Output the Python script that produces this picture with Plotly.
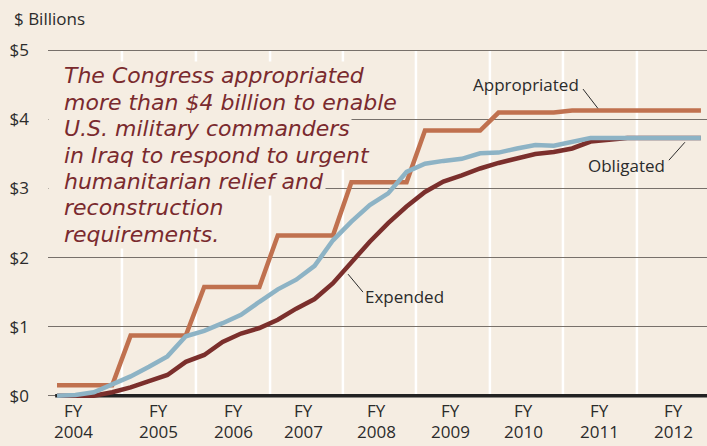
import plotly.graph_objects as go

# Quarterly index (0 = first quarter shown)
quarters = list(range(36))
appropriated = [0.15, 0.15, 0.15, 0.15, 0.87, 0.87, 0.87, 0.87, 1.575, 1.575, 1.575, 1.575,
                2.32, 2.32, 2.32, 2.32, 3.09, 3.09, 3.09, 3.09, 3.84, 3.84, 3.84, 3.84,
                4.10, 4.10, 4.10, 4.10, 4.13, 4.13, 4.13, 4.13, 4.13, 4.13, 4.13, 4.13]
obligated = [0.0, 0.01, 0.05, 0.16, 0.28, 0.42, 0.57, 0.86, 0.94, 1.05, 1.17, 1.36,
             1.54, 1.68, 1.88, 2.25, 2.52, 2.76, 2.93, 3.24, 3.36, 3.40, 3.43, 3.51,
             3.52, 3.58, 3.63, 3.62, 3.67, 3.73, 3.73, 3.73, 3.73, 3.73, 3.73, 3.73]
expended = [0.0, 0.0, 0.0, 0.05, 0.12, 0.21, 0.30, 0.49, 0.59, 0.78, 0.90, 0.98,
            1.10, 1.26, 1.40, 1.63, 1.93, 2.23, 2.50, 2.74, 2.95, 3.10, 3.19, 3.29,
            3.37, 3.44, 3.50, 3.53, 3.58, 3.68, 3.71, 3.73, 3.73, 3.73, 3.73, 3.73]

fy_tick_pos = [0.92, 5.49, 9.59, 13.42, 17.36, 21.41, 25.33, 29.51, 33.53]
fy_years = ["2004", "2005", "2006", "2007", "2008", "2009", "2010", "2011", "2012"]
fy_boundaries = [3.53, 7.55, 11.58, 15.54, 19.51, 23.53, 27.5, 31.52]
y_ticks = [0, 1, 2, 3, 4, 5]
y_labels = ["$0", "$1", "$2", "$3", "$4", "$5"]

note_lines = ["The Congress appropriated", "more than $4 billion to enable",
              "U.S. military commanders", "in Iraq to respond to urgent",
              "humanitarian relief and", "reconstruction", "requirements."]

BG = "#f5ede2"
C_APP = "#c0714f"
C_OBL = "#8db3c5"
C_EXP = "#7b2f2c"
TXT = "#2b2b2b"
FONT = "Open Sans"

fig = go.Figure()
fig.add_trace(go.Scatter(x=quarters, y=appropriated, mode="lines",
                         line=dict(color=C_APP, width=4.5), name="Appropriated"))
fig.add_trace(go.Scatter(x=quarters, y=expended, mode="lines",
                         line=dict(color=C_EXP, width=4.5), name="Expended"))
fig.add_trace(go.Scatter(x=quarters, y=obligated, mode="lines",
                         line=dict(color=C_OBL, width=4.5), name="Obligated"))

shapes = []
for b in fy_boundaries:
    shapes.append(dict(type="line", xref="x", yref="y", x0=b, x1=b, y0=0, y1=5,
                       line=dict(color="white", width=2.5), layer="below"))
shapes.append(dict(type="line", xref="x", yref="y", x0=-0.1, x1=35.33, y0=0, y1=0,
                   line=dict(color="#222222", width=3.5), layer="between"))
# leader lines
shapes += [
    dict(type="line", xref="x", yref="y", x0=28.59, y0=4.44, x1=29.40, y1=4.16,
         line=dict(color=TXT, width=1)),
    dict(type="line", xref="x", yref="y", x0=33.26, y0=3.41, x1=34.13, y1=3.67,
         line=dict(color=TXT, width=1)),
    dict(type="line", xref="x", yref="y", x0=16.63, y0=1.50, x1=15.82, y1=1.76,
         line=dict(color=TXT, width=1)),
]

annotations = [
    dict(text="Appropriated", x=25.49, y=4.51, xref="x", yref="y", showarrow=False,
         font=dict(family=FONT, size=17, color=TXT)),
    dict(text="Obligated", x=30.98, y=3.34, xref="x", yref="y", showarrow=False,
         font=dict(family=FONT, size=17, color=TXT)),
    dict(text="Expended", x=18.91, y=1.43, xref="x", yref="y", showarrow=False,
         font=dict(family=FONT, size=17, color=TXT)),
    dict(text="$ Billions", x=-0.0546, y=1.086, xref="paper", yref="paper",
         xanchor="left", yanchor="middle", showarrow=False,
         font=dict(family=FONT, size=17, color=TXT)),
]
for pos, yr in zip(fy_tick_pos, fy_years):
    annotations.append(dict(text="FY", x=pos, y=-0.0188, xref="x", yref="paper",
                            yanchor="middle", showarrow=False,
                            font=dict(family=FONT, size=17, color=TXT)))
    annotations.append(dict(text=yr, x=pos, y=-0.0779, xref="x", yref="paper",
                            yanchor="middle", showarrow=False,
                            font=dict(family=FONT, size=17, color=TXT)))

note_y = [4.64, 4.25, 3.87, 3.48, 3.10, 2.72, 2.33]
for line, yy in zip(note_lines, note_y):
    annotations.append(dict(text="<i>&nbsp;&nbsp;" + line + "</i>", x=-0.49, y=yy,
                            xref="x", yref="y",
                            xanchor="left", yanchor="middle", showarrow=False,
                            bgcolor=BG, borderpad=1,
                            font=dict(family="DejaVu Sans", size=22, color="#7a2a2e")))

fig.update_layout(
    width=707, height=446,
    margin=dict(l=48, r=0, t=48.6, b=41.7),
    paper_bgcolor=BG, plot_bgcolor=BG,
    showlegend=False,
    shapes=shapes, annotations=annotations,
    xaxis=dict(range=[-0.49, 35.33], showgrid=False, zeroline=False,
               showticklabels=False, ticks="", automargin=False),
    yaxis=dict(range=[-0.12, 5.02], showgrid=True, gridcolor="#77706a", gridwidth=1.3,
               zeroline=False, tickvals=y_ticks, ticktext=y_labels, ticks="",
               ticklabelstandoff=18, automargin=False,
               tickfont=dict(family=FONT, size=17, color=TXT)),
)

fig.write_html("out.html",
               config={"displayModeBar": False},
               post_script="document.body.style.margin='0px';"
                           "document.body.style.background='" + BG + "';"
                           "document.body.style.overflow='hidden';")
